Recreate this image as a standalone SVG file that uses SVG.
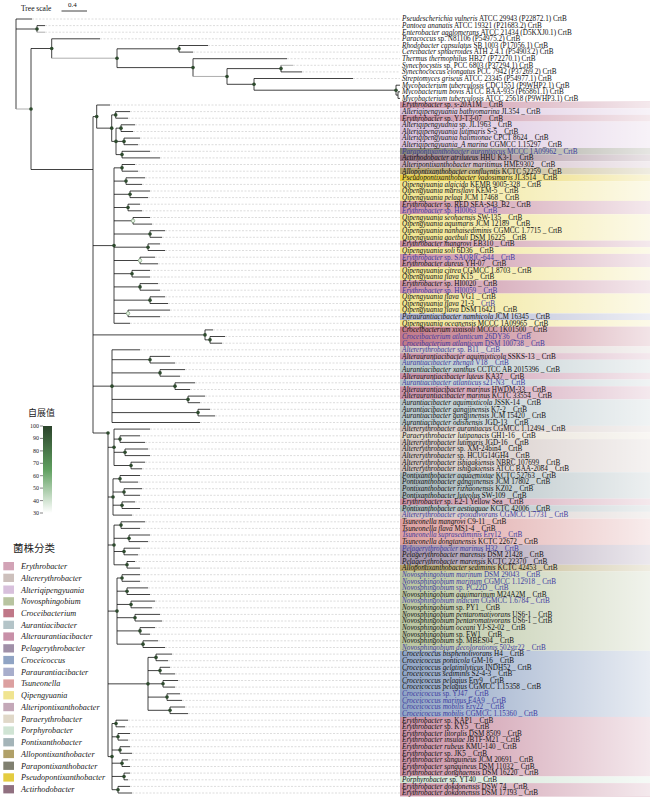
<svg xmlns="http://www.w3.org/2000/svg" width="650" height="801" viewBox="0 0 650 801">
<defs>
<style>
.b{stroke:#111;stroke-width:0.8;fill:none}
.g{stroke:#999;stroke-width:0.8;fill:none}
.d{stroke:#bbb;stroke-width:0.5;stroke-dasharray:2 1.5;fill:none}
.t{font-family:"Liberation Serif",serif;font-size:7.2px;fill:#111}
.i{font-style:italic}
.bl{fill:#3d3a9e}
.n{fill:#2d4a2d}
.nl{fill:#e4f0e0;stroke:#5c8a5c;stroke-width:0.5}
.lg{font-family:"Liberation Serif",serif;font-size:8.2px;font-style:italic;fill:#222}
.tk{font-family:"Liberation Serif",serif;font-size:6px;fill:#222;text-anchor:end}
</style>
<linearGradient id="fade" x1="0" y1="0" x2="1" y2="0">
<stop offset="0" stop-color="#fff" stop-opacity="0"/>
<stop offset="1" stop-color="#fff" stop-opacity="0.8"/>
</linearGradient>
<linearGradient id="boot" x1="0" y1="0" x2="0" y2="1">
<stop offset="0" stop-color="#2b432b"/>
<stop offset="0.5" stop-color="#5f9f5f"/>
<stop offset="1" stop-color="#ffffff"/>
</linearGradient>
</defs>
<rect width="650" height="801" fill="#fff"/>

<g id="scale">
<text x="21" y="10.5" class="t" style="font-size:7.5px">Tree scale</text>
<text x="68" y="7" class="t" style="font-size:7px">0.4</text>
<path d="M61.5 11H87" class="b"/>
</g>

<g id="bands">
<rect x="400" y="101.7" width="250" height="6.7" fill="#c990a4"/>
<rect x="400" y="108.3" width="250" height="6.7" fill="#d8c0dc"/>
<rect x="400" y="114.9" width="250" height="6.7" fill="#c990a4"/>
<rect x="400" y="121.5" width="250" height="26.5" fill="#d8c0dc"/>
<rect x="400" y="148" width="250" height="6.7" fill="#808070"/>
<rect x="400" y="154.6" width="250" height="6.7" fill="#907080"/>
<rect x="400" y="161.2" width="250" height="6.7" fill="#c4a8b8"/>
<rect x="400" y="167.8" width="250" height="6.7" fill="#b0a068"/>
<rect x="400" y="174.5" width="250" height="6.7" fill="#e4cc40"/>
<rect x="400" y="181.1" width="250" height="19.9" fill="#f0e490"/>
<rect x="400" y="200.9" width="250" height="13.3" fill="#c990a4"/>
<rect x="400" y="214.2" width="250" height="26.5" fill="#f0e490"/>
<rect x="400" y="240.6" width="250" height="6.7" fill="#c990a4"/>
<rect x="400" y="247.2" width="250" height="6.7" fill="#f0e490"/>
<rect x="400" y="253.9" width="250" height="13.3" fill="#c990a4"/>
<rect x="400" y="267.1" width="250" height="13.3" fill="#f0e490"/>
<rect x="400" y="280.3" width="250" height="13.3" fill="#c990a4"/>
<rect x="400" y="293.5" width="250" height="19.9" fill="#f0e490"/>
<rect x="400" y="313.4" width="250" height="6.7" fill="#a8aecc"/>
<rect x="400" y="320" width="250" height="6.7" fill="#f0e490"/>
<rect x="400" y="326.6" width="250" height="19.9" fill="#c07888"/>
<rect x="400" y="346.5" width="250" height="6.7" fill="#cdc0bc"/>
<rect x="400" y="353.1" width="250" height="6.7" fill="#c890a8"/>
<rect x="400" y="359.7" width="250" height="13.3" fill="#b4c4c8"/>
<rect x="400" y="372.9" width="250" height="6.7" fill="#c890a8"/>
<rect x="400" y="379.5" width="250" height="6.7" fill="#b4c4c8"/>
<rect x="400" y="386.2" width="250" height="13.3" fill="#c890a8"/>
<rect x="400" y="399.4" width="250" height="26.5" fill="#b4c4c8"/>
<rect x="400" y="425.8" width="250" height="6.7" fill="#cdc0bc"/>
<rect x="400" y="432.5" width="250" height="6.7" fill="#e0d8c8"/>
<rect x="400" y="439.1" width="250" height="33.1" fill="#cdc0bc"/>
<rect x="400" y="472.2" width="250" height="26.5" fill="#a4b4b8"/>
<rect x="400" y="498.6" width="250" height="6.7" fill="#c990a4"/>
<rect x="400" y="505.2" width="250" height="6.7" fill="#a4b4b8"/>
<rect x="400" y="511.8" width="250" height="6.7" fill="#cdc0bc"/>
<rect x="400" y="518.5" width="250" height="26.5" fill="#dca0a0"/>
<rect x="400" y="544.9" width="250" height="19.9" fill="#a090a8"/>
<rect x="400" y="564.8" width="250" height="6.7" fill="#b0a068"/>
<rect x="400" y="571.4" width="250" height="79.4" fill="#b8c4a0"/>
<rect x="400" y="650.8" width="250" height="66.2" fill="#90a4c4"/>
<rect x="400" y="716.9" width="250" height="59.6" fill="#c990a4"/>
<rect x="400" y="776.5" width="250" height="6.7" fill="#d0e4d4"/>
<rect x="400" y="783.1" width="250" height="13.3" fill="#c990a4"/>
<rect x="400" y="101.7" width="250" height="694.6" fill="url(#fade)"/>
</g>

<g id="tree">
<path class="b" d="M16 19V109M16 19H32M16 29H37M37 25.6V32.2M37 25.6H45"/>
<path class="g" d="M37 32.2H45M16 109H31"/>
<path class="b" d="M31 48.5V169.5M31 48.5H51.7M51.7 38.8V58.2M51.7 38.8H100"/>
<path class="g" d="M51.7 58.2H117"/>
<path class="b" d="M117 48.8V67.6M117 48.8H179M179 45.5V52.1M179 45.5H208M179 52.1H193M117 67.6H193M193 58.7V76.45M193 58.7H287"/>
<path class="g" d="M193 76.45H227"/>
<path class="b" d="M227 68.6V84.3M227 68.6H281M281 65.3V71.9M281 71.9H302M227 84.3H254M254 78.5V90.2M254 78.5H353M254 90.2H396M396 85.2V95.1M396 85.2H400M396 95.1H398M398 91.8V98.4M398 91.8H400M398 98.4H400"/>
<path class="g" d="M281 65.3H293"/>
<!-- ingroup backbone -->
<path class="b" d="M31 169.5H93M93 116.6V433M93 433H108M108 433V756.6"/>
<!-- clade A -->
<path class="b" d="M93 116.6H96.7M96.7 105V128.15M96.7 105H110M96.7 128.15H111.7M111.7 114.9V141.4M111.7 114.9H115.7M115.7 111.6V118.2M115.7 111.6H130M115.7 118.2H128M111.7 141.4H116M116 128.15V154.6M116 128.15H121M121 124.8V131.5M121 124.8H135M121 131.5H133M116 141.4H124M124 138.1V144.7M124 138.1H140M124 144.7H138M116 154.6H122M122 151.3V157.9M122 151.3H150M122 157.9H160"/>
<!-- clade Q -->
<path class="b" d="M93 245.6H114M114 167.85V323.3M114 167.85H122M122 164.5V171.2M122 164.5H135M122 171.2H138M114 181.1H126M126 177.8V184.4M126 177.8H145M126 184.4H142M114 194.3H130M130 191V197.6M130 191H150M130 197.6H148M114 207.5H128M128 204.2V210.8M128 204.2H140M128 210.8H142M114 220.8H133M133 217.5V224.1M133 217.5H150M133 224.1H152M114 234H150M150 230.7V237.3M150 230.7H165M150 237.3H162M114 247.2H148M148 243.9V250.5M148 243.9H160M148 250.5H165M114 260.5H140M140 257.2V263.8M140 257.2H155M140 263.8H158M114 273.7H132M132 270.4V277M132 270.4H150M132 277H150M114 286.9H140M140 283.6V290.2M140 283.6H158M140 290.2H160M114 300.15H150M150 296.8V303.5M150 296.8H165M150 303.5H168M114 313.4H128M128 310.1V316.7M128 310.1H170M128 316.7H160M114 323.3H130"/>
<!-- Croceibacterium -->
<path class="b" d="M93 334.9H205M205 329.9V339.85M205 329.9H213M205 339.85H210M210 336.5V343.2M210 336.5H225M210 343.2H222"/>
<!-- rows 51-62 -->
<path class="b" d="M93 386.15H112M112 349.8V422.5M112 349.8H140M112 422.5H200M112 359.7H150M150 356.4V363M150 356.4H170M150 363H175M112 372.9H160M160 369.6V376.2M160 369.6H185M160 376.2H180M112 386.15H175M175 382.8V389.5M175 382.8H195M175 389.5H190M112 399.4H188M188 396.1V402.7M188 396.1H205M188 402.7H200M112 412.6H198M198 409.3V415.9M198 409.3H210M198 415.9H215"/>
<!-- rows 63-69 -->
<path class="b" d="M108 447.3H114M114 429.1V465.5M114 429.1H150M114 439.1H120M120 435.8V442.4M120 435.8H140M120 442.4H145M114 452.3H125M125 449V455.6M125 449H148M125 455.6H150M114 465.5H131M131 462.2V468.8M131 462.2H145M131 468.8H142"/>
<!-- rows 70-76 -->
<path class="b" d="M108 497H113M113 478.8V515.1M113 515.1H132M113 478.8H120M120 475.5V482.1M120 475.5H140M120 482.1H138M113 492H124M124 488.7V495.3M124 488.7H142M124 495.3H140M113 505.2H122M122 501.9V508.5M122 501.9H135M122 508.5H140"/>
<!-- rows 77-84 -->
<path class="b" d="M108 545H114M114 525.1V564.8M114 525.1H121M121 521.8V528.4M121 521.8H145M121 528.4H140M114 538.3H129M129 535V541.6M129 535H150M129 541.6H148M114 551.5H124M124 548.2V554.8M124 548.2H140M124 554.8H138M114 564.8H127M127 561.5V568.1M127 561.5H135M127 568.1H140"/>
<!-- Novosphingobium -->
<path class="b" d="M108 611.1H117M117 578V644.15M117 578H122M122 574.7V581.3M122 574.7H140M122 581.3H140M117 591.2H127M127 587.9V594.5M127 587.9H148M127 594.5H150M117 604.45H131M131 601.1V607.8M131 601.1H155M131 607.8H152M117 617.7H135M135 614.4V621M135 614.4H160M135 621H162M117 630.9H140M140 627.6V634.2M140 627.6H155M140 634.2H150M117 644.15H143M143 640.8V647.5M143 640.8H158M143 647.5H165"/>
<!-- Croceicoccus -->
<path class="b" d="M108 683.85H148M148 657.4V710.3M148 657.4H156M156 654.1V660.7M156 654.1H172M156 660.7H168M148 670.6H160M160 667.3V673.9M160 667.3H170M160 673.9H175M148 683.8H163M163 680.5V687.1M163 680.5H178M163 687.1H175M148 697.1H167M167 693.8V700.4M167 693.8H180M167 700.4H182M148 710.3H170M170 707V713.6M170 707H185M170 713.6H188"/>
<!-- Erythrobacter -->
<path class="b" d="M108 756.6H112M112 723.5V789.7M112 723.5H116M116 720.2V726.8M116 720.2H128M116 726.8H125M112 736.8H118M118 733.5V740.1M118 733.5H130M118 740.1H128M112 750H120M120 746.7V753.3M120 746.7H130M120 753.3H132M112 763.2H122M122 759.9V766.5M122 759.9H128M122 766.5H130M112 776.45H124M124 773.1V779.8M124 773.1H130M124 779.8H128M112 789.7H118M118 786.4V793M118 786.4H130M118 793H132"/>
</g>

<g id="leaders">
<path class="d" d="M32 19H400M45 25.6H400M45 32.2H400M100 38.8H400M208 45.5H400M193 52.1H400M287 58.7H400M293 65.3H400M302 71.9H400M353 78.5H400"/>
<path class="d" d="M110 105H400M130 111.6H400M128 118.2H400M135 124.8H400M133 131.5H400M140 138.1H400M138 144.7H400M150 151.3H400M160 157.9H400M135 164.5H400M138 171.2H400M145 177.8H400M142 184.4H400M150 191H400M148 197.6H400M140 204.2H400M142 210.8H400M150 217.5H400M152 224.1H400M165 230.7H400M162 237.3H400M160 243.9H400M165 250.5H400M155 257.2H400M158 263.8H400M150 270.4H400M150 277H400M158 283.6H400M160 290.2H400M165 296.8H400M168 303.5H400M170 310.1H400M160 316.7H400M130 323.3H400"/>
<path class="d" d="M213 329.9H400M225 336.5H400M222 343.2H400M140 349.8H400M170 356.4H400M175 363H400M185 369.6H400M180 376.2H400M195 382.8H400M190 389.5H400M205 396.1H400M200 402.7H400M210 409.3H400M215 415.9H400M200 422.5H400M150 429.1H400M140 435.8H400M145 442.4H400M148 449H400M150 455.6H400M145 462.2H400M142 468.8H400M140 475.5H400M138 482.1H400M142 488.7H400M140 495.3H400M135 501.9H400M140 508.5H400M132 515.1H400"/>
<path class="d" d="M145 521.8H400M140 528.4H400M150 535H400M148 541.6H400M140 548.2H400M138 554.8H400M135 561.5H400M140 568.1H400M140 574.7H400M140 581.3H400M148 587.9H400M150 594.5H400M155 601.1H400M152 607.8H400M160 614.4H400M162 621H400M155 627.6H400M150 634.2H400M158 640.8H400M165 647.5H400M172 654.1H400M168 660.7H400M170 667.3H400M175 673.9H400M178 680.5H400M175 687.1H400M180 693.8H400M182 700.4H400M185 707H400M188 713.6H400M128 720.2H400M125 726.8H400M130 733.5H400M128 740.1H400M130 746.7H400M132 753.3H400M128 759.9H400M130 766.5H400M130 773.1H400M128 779.8H400M130 786.4H400M132 793H400"/>
</g>

<g id="nodes">
<g class="n">
<circle cx="37" cy="29" r="1.8"/><circle cx="31" cy="109" r="1.8"/><circle cx="51.7" cy="48.5" r="1.8"/><circle cx="117" cy="58.2" r="1.8"/><circle cx="179" cy="48.8" r="1.8"/><circle cx="193" cy="67.6" r="1.8"/><circle cx="227" cy="76.45" r="1.8"/><circle cx="281" cy="68.6" r="1.8"/><circle cx="254" cy="84.3" r="1.8"/><circle cx="396" cy="90.2" r="1.8"/>
<circle cx="96.7" cy="116.6" r="1.8"/><circle cx="111.7" cy="128.15" r="1.8"/><circle cx="115.7" cy="114.9" r="1.8"/><circle cx="116" cy="141.4" r="1.8"/><circle cx="121" cy="128.15" r="1.8"/><circle cx="124" cy="141.4" r="1.8"/><circle cx="122" cy="154.6" r="1.8"/>
<circle cx="114" cy="245.6" r="1.8"/><circle cx="122" cy="167.85" r="1.8"/><circle cx="126" cy="181.1" r="1.8"/><circle cx="130" cy="194.3" r="1.8"/><circle cx="128" cy="207.5" r="1.8"/><circle cx="150" cy="234" r="1.8"/><circle cx="148" cy="247.2" r="1.8"/><circle cx="132" cy="273.7" r="1.8"/><circle cx="140" cy="286.9" r="1.8"/><circle cx="150" cy="300.15" r="1.8"/>
<circle cx="205" cy="334.9" r="1.8"/><circle cx="210" cy="339.85" r="1.8"/>
<circle cx="112" cy="386.15" r="1.8"/><circle cx="150" cy="359.7" r="1.8"/><circle cx="160" cy="372.9" r="1.8"/><circle cx="175" cy="386.15" r="1.8"/><circle cx="188" cy="399.4" r="1.8"/><circle cx="198" cy="412.6" r="1.8"/>
<circle cx="108" cy="433" r="1.8"/>
<circle cx="114" cy="447.3" r="1.8"/><circle cx="120" cy="439.1" r="1.8"/><circle cx="125" cy="452.3" r="1.8"/><circle cx="131" cy="465.5" r="1.8"/>
<circle cx="113" cy="497" r="1.8"/><circle cx="120" cy="478.8" r="1.8"/><circle cx="124" cy="492" r="1.8"/><circle cx="122" cy="505.2" r="1.8"/>
<circle cx="114" cy="545" r="1.8"/><circle cx="121" cy="525.1" r="1.8"/><circle cx="129" cy="538.3" r="1.8"/><circle cx="124" cy="551.5" r="1.8"/><circle cx="127" cy="564.8" r="1.8"/>
<circle cx="117" cy="611.1" r="1.8"/><circle cx="122" cy="578" r="1.8"/><circle cx="127" cy="591.2" r="1.8"/><circle cx="131" cy="604.45" r="1.8"/><circle cx="135" cy="617.7" r="1.8"/><circle cx="140" cy="630.9" r="1.8"/><circle cx="143" cy="644.15" r="1.8"/>
<circle cx="148" cy="683.85" r="1.8"/><circle cx="156" cy="657.4" r="1.8"/><circle cx="160" cy="670.6" r="1.8"/><circle cx="163" cy="683.8" r="1.8"/><circle cx="167" cy="697.1" r="1.8"/><circle cx="170" cy="710.3" r="1.8"/>
<circle cx="112" cy="756.6" r="1.8"/><circle cx="116" cy="723.5" r="1.8"/><circle cx="118" cy="736.8" r="1.8"/><circle cx="120" cy="750" r="1.8"/><circle cx="122" cy="763.2" r="1.8"/><circle cx="124" cy="776.45" r="1.8"/><circle cx="118" cy="789.7" r="1.8"/>
</g>
<g class="nl">
<circle cx="133" cy="220.8" r="1.8"/><circle cx="140" cy="260.5" r="1.8"/><circle cx="128" cy="313.4" r="1.8"/>
</g>
</g>

<g id="labels" class="t">
<text x="402" y="21.3"><tspan class="i">Pseudescherichia vulneris</tspan> ATCC 29943 (P22872.1) CrtB</text>
<text x="402" y="27.9"><tspan class="i">Pantoea ananatis</tspan> ATCC 19321 (P21683.2) CrtB</text>
<text x="402" y="34.5"><tspan class="i">Enterobacter agglomerans</tspan> ATCC 21434 (D5KXJ0.1) CrtB</text>
<text x="402" y="41.1"><tspan class="i">Paracoccus</tspan> sp. N81106 (P54975.2) CrtB</text>
<text x="402" y="47.8"><tspan class="i">Rhodobacter capsulatus</tspan> SB 1003 (P17056.1) CrtB</text>
<text x="402" y="54.4"><tspan class="i">Cereibacter sphaeroides</tspan> ATH 2.4.1 (P54903.2) CrtB</text>
<text x="402" y="61"><tspan class="i">Thermus thermophilus</tspan> HB27 (P72270.1) CrtB</text>
<text x="402" y="67.6"><tspan class="i">Synechocystis</tspan> sp. PCC 6803 (P37294.1) CrtB</text>
<text x="402" y="74.2"><tspan class="i">Synechococcus elongatus</tspan> PCC 7942 (P37269.2) CrtB</text>
<text x="402" y="80.8"><tspan class="i">Streptomyces griseus</tspan> ATCC 23345 (P54977.1) CrtB</text>
<text x="402" y="87.5"><tspan class="i">Mycobacterium tuberculosis</tspan> CDC1551 (P9WHP2.1) CrtB</text>
<text x="402" y="94.1"><tspan class="i">Mycobacterium bovis</tspan> ATCC BAA-935 (P65861.1) CrtB</text>
<text x="402" y="100.7"><tspan class="i">Mycobacterium tuberculosis</tspan> ATCC 25618 (P9WHP3.1) CrtB</text>
<text x="402" y="107.3"><tspan class="i">Erythrobacter</tspan> sp. s-20A1M _ CrtB</text>
<text x="402" y="113.9"><tspan class="i">Alteriqipengyuania bathyomarina</tspan> JL354 _ CrtB</text>
<text x="402" y="120.5"><tspan class="i">Erythrobacter</tspan> sp. YJ-T3-07 _ CrtB</text>
<text x="402" y="127.1"><tspan class="i">Alteriqipengyuania</tspan> sp. JL1963 _ CrtB</text>
<text x="402" y="133.8"><tspan class="i">Alteriqipengyuania lutimaris</tspan> S-5 _ CrtB</text>
<text x="402" y="140.4"><tspan class="i">Alteriqipengyuania halimionae</tspan> CPCT 8624 _ CrtB</text>
<text x="402" y="147"><tspan class="i">Alteriqipengyuania_A marina</tspan> CGMCC 1.15297 _ CrtB</text>
<text x="402" y="153.6" class="bl"><tspan class="i">Parapontixanthobacter aurantiacus</tspan> MCCC 1A09962 _ CrtB</text>
<text x="402" y="160.2"><tspan class="i">Actirhodobacter atriluteus</tspan> HHU K3-1 _ CrtB</text>
<text x="402" y="166.8"><tspan class="i">Alteripontixanthobacter maritimus</tspan> HME9302 _ CrtB</text>
<text x="402" y="173.5"><tspan class="i">Allopontixanthobacter confluentis</tspan> KCTC 52259 _ CrtB</text>
<text x="402" y="180.1"><tspan class="i">Pseudopontixanthobacter vadosimaris</tspan> JL3514 _ CrtB</text>
<text x="402" y="186.7"><tspan class="i">Qipengyuania algicida</tspan> KEMB 9005-328 _ CrtB</text>
<text x="402" y="193.3"><tspan class="i">Qipengyuania marisflavi</tspan> KEM-5 _ CrtB</text>
<text x="402" y="199.9"><tspan class="i">Qipengyuania pelagi</tspan> JCM 17468 _ CrtB</text>
<text x="402" y="206.5"><tspan class="i">Erythrobacter</tspan> sp. RED SEA-S43_B2 _ CrtB</text>
<text x="402" y="213.1" class="bl"><tspan class="i">Erythrobacter</tspan> sp. HI0063 _ CrtB</text>
<text x="402" y="219.8"><tspan class="i">Qipengyuania seohaensis</tspan> SW-135 _ CrtB</text>
<text x="402" y="226.4"><tspan class="i">Qipengyuania aquimaris</tspan> JCM 12189 _ CrtB</text>
<text x="402" y="233"><tspan class="i">Qipengyuania nanhaisediminis</tspan> CGMCC 1.7715 _ CrtB</text>
<text x="402" y="239.6"><tspan class="i">Qipengyuania gaetbuli</tspan> DSM 16225 _ CrtB</text>
<text x="402" y="246.2"><tspan class="i">Erythrobacter mangrovi</tspan> EB310 _ CrtB</text>
<text x="402" y="252.8"><tspan class="i">Qipengyuania soli</tspan> 6D36 _ CrtB</text>
<text x="402" y="259.5" class="bl"><tspan class="i">Erythrobacter</tspan> sp. SAORIC-644 _ CrtB</text>
<text x="402" y="266.1"><tspan class="i">Erythrobacter aureus</tspan> YH-07 _ CrtB</text>
<text x="402" y="272.7"><tspan class="i">Qipengyuania citrea</tspan> CGMCC 1.8703 _ CrtB</text>
<text x="402" y="279.3"><tspan class="i">Qipengyuania flava</tspan> K15 _ CrtB</text>
<text x="402" y="285.9"><tspan class="i">Erythrobacter</tspan> sp. HI0020 _ CrtB</text>
<text x="402" y="292.5" class="bl"><tspan class="i">Erythrobacter</tspan> sp. HI0059 _ CrtB</text>
<text x="402" y="299.1"><tspan class="i">Qipengyuania flava</tspan> VG1 _ CrtB</text>
<text x="402" y="305.8"><tspan class="i">Qipengyuania flava</tspan> 21-3 _ <tspan class="bl">CrtB</tspan></text>
<text x="402" y="312.4"><tspan class="i">Qipengyuania flava</tspan> DSM 16421 _ CrtB</text>
<text x="402" y="319"><tspan class="i">Paraurantiacibacter namhicola</tspan> JCM 16345 _ CrtB</text>
<text x="402" y="325.6"><tspan class="i">Qipengyuania oceanensis</tspan> MCCC 1A09965 _ CrtB</text>
<text x="402" y="332.2"><tspan class="i">Croceibacterium xixiisoli</tspan> MCCC 1K01500 _ CrtB</text>
<text x="402" y="338.8" class="bl"><tspan class="i">Croceibacterium atlanticum</tspan> 26DY36 _ CrtB</text>
<text x="402" y="345.5" class="bl"><tspan class="i">Croceibacterium atlanticum</tspan> DSM 100738 _ CrtB</text>
<text x="402" y="352.1" class="bl"><tspan class="i">Altererythrobacter</tspan> sp. B11 _ CrtB</text>
<text x="402" y="358.7"><tspan class="i">Alteraurantiacibacter aquimixticola</tspan> SSKS-13 _ CrtB</text>
<text x="402" y="365.3" class="bl"><tspan class="i">Aurantiacibacter zhengii</tspan> V18 _ CrtB</text>
<text x="402" y="371.9"><tspan class="i">Aurantiacibacter xanthus</tspan> CCTCC AB 2015396 _ CrtB</text>
<text x="402" y="378.5"><tspan class="i">Alteraurantiacibacter luteus</tspan> KA37 _ CrtB</text>
<text x="402" y="385.1" class="bl"><tspan class="i">Aurantiacibacter atlanticus</tspan> s21-N3 _ CrtB</text>
<text x="402" y="391.8"><tspan class="i">Alteraurantiacibacter marinus</tspan> HWDM-33 _ CrtB</text>
<text x="402" y="398.4"><tspan class="i">Alteraurantiacibacter marinus</tspan> KCTC 33554 _ CrtB</text>
<text x="402" y="405"><tspan class="i">Aurantiacibacter aquimixticola</tspan> JSSK-14 _ CrtB</text>
<text x="402" y="411.6"><tspan class="i">Aurantiacibacter gangjinensis</tspan> K7-2 _ CrtB</text>
<text x="402" y="418.2"><tspan class="i">Aurantiacibacter gangjinensis</tspan> JCM 15420 _ CrtB</text>
<text x="402" y="424.8"><tspan class="i">Aurantiacibacter odishensis</tspan> JGD-13 _ CrtB</text>
<text x="402" y="431.4"><tspan class="i">Altererythrobacter aurantiacus</tspan> CGMCC 1.12494 _ CrtB</text>
<text x="402" y="438.1"><tspan class="i">Paraerythrobacter lutipanacis</tspan> GH1-16 _ CrtB</text>
<text x="402" y="444.7"><tspan class="i">Altererythrobacter lutimaris</tspan> JGD-16 _ CrtB</text>
<text x="402" y="451.3"><tspan class="i">Altererythrobacter</tspan> sp. XM-24bin4 _ CrtB</text>
<text x="402" y="457.9"><tspan class="i">Altererythrobacter</tspan> sp. HCUG14GH4 _ CrtB</text>
<text x="402" y="464.5"><tspan class="i">Altererythrobacter ishigakiensis</tspan> NBRC 107699 _ CrtB</text>
<text x="402" y="471.1"><tspan class="i">Altererythrobacter ishigakiensis</tspan> ATCC BAA-2084 _ CrtB</text>
<text x="402" y="477.8"><tspan class="i">Pontixanthobacter aquaemixtae</tspan> KCTC 52763 _ CrtB</text>
<text x="402" y="484.4"><tspan class="i">Pontixanthobacter gangjinensis</tspan> JCM 17802 _ CrtB</text>
<text x="402" y="491"><tspan class="i">Pontixanthobacter rizhaonensis</tspan> KZ02 _ CrtB</text>
<text x="402" y="497.6"><tspan class="i">Pontixanthobacter luteolus</tspan> SW-109 _ CrtB</text>
<text x="402" y="504.2"><tspan class="i">Erythrobacter</tspan> sp. E2-1 Yellow Sea _ CrtB</text>
<text x="402" y="510.8"><tspan class="i">Pontixanthobacter aestiaquae</tspan> KCTC 42006 _ CrtB</text>
<text x="402" y="517.4" class="bl"><tspan class="i">Altererythrobacter epoxidivorans</tspan> CGMCC 1.7731 _ CrtB</text>
<text x="402" y="524.1"><tspan class="i">Tsuneonella mangrovi</tspan> C9-11 _ CrtB</text>
<text x="402" y="530.7"><tspan class="i">Tsuneonella flava</tspan> MS1-4 _ CrtB</text>
<text x="402" y="537.3" class="bl"><tspan class="i">Tsuneonella suprasediminis</tspan> Ery12 _ CrtB</text>
<text x="402" y="543.9"><tspan class="i">Tsuneonella dongtanensis</tspan> KCTC 22672 _ CrtB</text>
<text x="402" y="550.5" class="bl"><tspan class="i">Pelagerythrobacter marinus</tspan> H32 _ CrtB</text>
<text x="402" y="557.1"><tspan class="i">Pelagerythrobacter marensis</tspan> DSM 21428 _ CrtB</text>
<text x="402" y="563.8"><tspan class="i">Pelagerythrobacter marensis</tspan> KCTC 22370 _ CrtB</text>
<text x="402" y="570.4"><tspan class="i">Allopontixanthobacter sediminis</tspan> KCTC 42453 _ CrtB</text>
<text x="402" y="577" class="bl"><tspan class="i">Novosphingobium marinum</tspan> DSM 29043 _ CrtB</text>
<text x="402" y="583.6" class="bl"><tspan class="i">Novosphingobium marinum</tspan> CGMCC 1.12918 _ CrtB</text>
<text x="402" y="590.2" class="bl"><tspan class="i">Novosphingobium</tspan> sp. PC22D _ CrtB</text>
<text x="402" y="596.8"><tspan class="i">Novosphingobium aquimarinum</tspan> M24A2M _ CrtB</text>
<text x="402" y="603.4" class="bl"><tspan class="i">Novosphingobium indicum</tspan> CGMCC 1.6784 _ CrtB</text>
<text x="402" y="610.1"><tspan class="i">Novosphingobium</tspan> sp. PY1 _ CrtB</text>
<text x="402" y="616.7"><tspan class="i">Novosphingobium pentaromativorans</tspan> US6-1 _ CrtB</text>
<text x="402" y="623.3"><tspan class="i">Novosphingobium pentaromativorans</tspan> US6-1 _ CrtB</text>
<text x="402" y="629.9"><tspan class="i">Novosphingobium oceani</tspan> YJ-S2-02 _ CrtB</text>
<text x="402" y="636.5"><tspan class="i">Novosphingobium</tspan> sp. EW1 _ CrtB</text>
<text x="402" y="643.1"><tspan class="i">Novosphingobium</tspan> sp. MBES04 _ CrtB</text>
<text x="402" y="649.8" class="bl"><tspan class="i">Novosphingobium decolorationis</tspan> 502str22 _ CrtB</text>
<text x="402" y="656.4"><tspan class="i">Croceicoccus bisphenolivorans</tspan> H4 _ CrtB</text>
<text x="402" y="663"><tspan class="i">Croceicoccus ponticola</tspan> GM-16 _ CrtB</text>
<text x="402" y="669.6"><tspan class="i">Croceicoccus gelatinilyticus</tspan> INDH52 _ CrtB</text>
<text x="402" y="676.2"><tspan class="i">Croceicoccus sediminis</tspan> S2-4-3 _ CrtB</text>
<text x="402" y="682.8"><tspan class="i">Croceicoccus pelagius</tspan> Ery9 _ CrtB</text>
<text x="402" y="689.4"><tspan class="i">Croceicoccus pelagius</tspan> CGMCC 1.15358 _ CrtB</text>
<text x="402" y="696.1" class="bl"><tspan class="i">Croceicoccus</tspan> sp. YJ47 _ CrtB</text>
<text x="402" y="702.7" class="bl"><tspan class="i">Croceicoccus marinus</tspan> E4A9 _ CrtB</text>
<text x="402" y="709.3" class="bl"><tspan class="i">Croceicoccus mobilis</tspan> Ery22 _ CrtB</text>
<text x="402" y="715.9" class="bl"><tspan class="i">Croceicoccus mobilis</tspan> CGMCC 1.15360 _ CrtB</text>
<text x="402" y="722.5"><tspan class="i">Erythrobacter</tspan> sp. KAP1 _ CrtB</text>
<text x="402" y="729.1"><tspan class="i">Erythrobacter</tspan> sp. KY5 _ CrtB</text>
<text x="402" y="735.8"><tspan class="i">Erythrobacter litoralis</tspan> DSM 8509 _ CrtB</text>
<text x="402" y="742.4"><tspan class="i">Erythrobacter insulae</tspan> JBTF-M21 _ CrtB</text>
<text x="402" y="749"><tspan class="i">Erythrobacter rubeus</tspan> KMU-140 _ CrtB</text>
<text x="402" y="755.6"><tspan class="i">Erythrobacter</tspan> sp. JK5 _ CrtB</text>
<text x="402" y="762.2"><tspan class="i">Erythrobacter sanguineus</tspan> JCM 20691 _ CrtB</text>
<text x="402" y="768.8"><tspan class="i">Erythrobacter sanguineus</tspan> DSM 11032 _ CrtB</text>
<text x="402" y="775.4"><tspan class="i">Erythrobacter donghaensis</tspan> DSM 16220 _ CrtB</text>
<text x="402" y="782.1"><tspan class="i">Porphyrobacter</tspan> sp. YT40 _ CrtB</text>
<text x="402" y="788.7"><tspan class="i">Erythrobacter dokdonensis</tspan> DSW 74 _ CrtB</text>
<text x="402" y="795.3"><tspan class="i">Erythrobacter dokdonensis</tspan> DSM 17193 _ CrtB</text>
</g>

<g id="bootstrap-legend">
<text x="28" y="416" style="font-family:'Noto Sans CJK SC',sans-serif;font-size:9px;fill:#222">自展值</text>
<rect x="43" y="426" width="9" height="87" fill="url(#boot)"/>
<path d="M40 426H43M40 438.4H43M40 450.9H43M40 463.3H43M40 475.7H43M40 488.1H43M40 500.6H43M40 513H43" stroke="#333" stroke-width="0.6"/>
<text x="39" y="428" class="tk">100</text>
<text x="39" y="440.4" class="tk">90</text>
<text x="39" y="452.9" class="tk">80</text>
<text x="39" y="465.3" class="tk">70</text>
<text x="39" y="477.7" class="tk">60</text>
<text x="39" y="490.1" class="tk">50</text>
<text x="39" y="502.6" class="tk">40</text>
<text x="39" y="515" class="tk">30</text>
</g>

<g id="taxonomy-legend">
<text x="13" y="552" style="font-family:'Noto Sans CJK SC',sans-serif;font-size:10.5px;fill:#222">菌株分类</text>
<rect x="3.3" y="562" width="10.7" height="8.3" fill="#d2a3b6"/><text x="21" y="569" class="lg">Erythrobacter</text>
<rect x="3.3" y="573.7" width="10.7" height="8.3" fill="#cdc0bc"/><text x="21" y="580.7" class="lg">Altererythrobacter</text>
<rect x="3.3" y="585.5" width="10.7" height="8.3" fill="#d8c0dc"/><text x="21" y="592.5" class="lg">Alteriqipengyuania</text>
<rect x="3.3" y="597.2" width="10.7" height="8.3" fill="#b8c4a0"/><text x="21" y="604.2" class="lg">Novosphingobium</text>
<rect x="3.3" y="609" width="10.7" height="8.3" fill="#c07888"/><text x="21" y="616" class="lg">Croceibacterium</text>
<rect x="3.3" y="620.7" width="10.7" height="8.3" fill="#b4c4c8"/><text x="21" y="627.7" class="lg">Aurantiacibacter</text>
<rect x="3.3" y="632.4" width="10.7" height="8.3" fill="#c890a8"/><text x="21" y="639.4" class="lg">Alteraurantiacibacter</text>
<rect x="3.3" y="644.2" width="10.7" height="8.3" fill="#a090a8"/><text x="21" y="651.2" class="lg">Pelagerythrobacter</text>
<rect x="3.3" y="655.9" width="10.7" height="8.3" fill="#90a4c4"/><text x="21" y="662.9" class="lg">Croceicoccus</text>
<rect x="3.3" y="667.7" width="10.7" height="8.3" fill="#a8aecc"/><text x="21" y="674.7" class="lg">Paraurantiacibacter</text>
<rect x="3.3" y="679.4" width="10.7" height="8.3" fill="#dca0a0"/><text x="21" y="686.4" class="lg">Tsuneonella</text>
<rect x="3.3" y="691.1" width="10.7" height="8.3" fill="#f0e490"/><text x="21" y="698.1" class="lg">Qipengyuania</text>
<rect x="3.3" y="702.9" width="10.7" height="8.3" fill="#c4a8b8"/><text x="21" y="709.9" class="lg">Alteripontixanthobacter</text>
<rect x="3.3" y="714.6" width="10.7" height="8.3" fill="#e0d8c8"/><text x="21" y="721.6" class="lg">Paraerythrobacter</text>
<rect x="3.3" y="726.4" width="10.7" height="8.3" fill="#d0e4d4"/><text x="21" y="733.4" class="lg">Porphyrobacter</text>
<rect x="3.3" y="738.1" width="10.7" height="8.3" fill="#a4b4b8"/><text x="21" y="745.1" class="lg">Pontixanthobacter</text>
<rect x="3.3" y="749.8" width="10.7" height="8.3" fill="#b0a068"/><text x="21" y="756.8" class="lg">Allopontixanthobacter</text>
<rect x="3.3" y="761.6" width="10.7" height="8.3" fill="#808070"/><text x="21" y="768.6" class="lg">Parapontixanthobacter</text>
<rect x="3.3" y="773.3" width="10.7" height="8.3" fill="#e4cc40"/><text x="21" y="780.3" class="lg">Pseudopontixanthobacter</text>
<rect x="3.3" y="785.1" width="10.7" height="8.3" fill="#907080"/><text x="21" y="792.1" class="lg">Actirhodobacter</text>
</g>
</svg>
